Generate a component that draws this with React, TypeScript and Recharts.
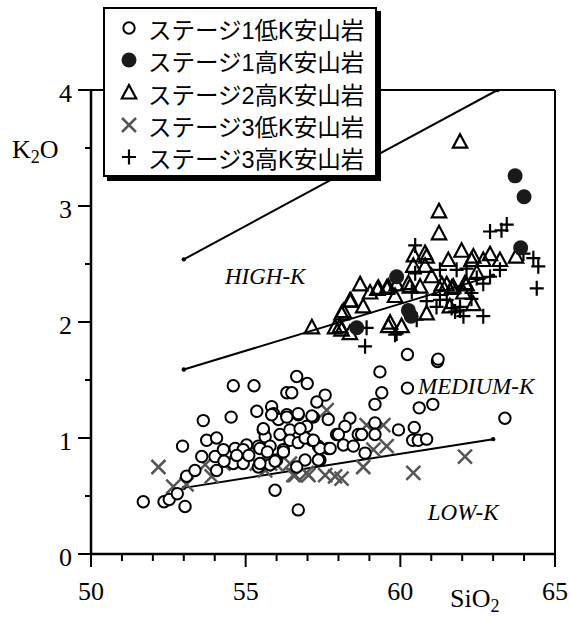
import React from 'react';
import { ScatterChart, Scatter, XAxis, YAxis, ReferenceLine, ReferenceDot, Legend } from 'recharts';

// SiO2 / K2O diagram
const stage1Low: [number, number][] = [
  [51.69, 0.45], [52.36, 0.45], [52.53, 0.47], [52.79, 0.52], [53.04, 0.41], [53.09, 0.67], [53.36, 0.72],
  [53.58, 0.84], [52.96, 0.93], [53.63, 1.15], [53.74, 0.98], [54.06, 1.0], [54.01, 0.84], [54.06, 0.72],
  [54.28, 0.9], [54.53, 1.18], [54.6, 1.45], [55.27, 1.45], [55.36, 1.23], [54.66, 0.91], [54.6, 0.78],
  [54.92, 0.78], [55.03, 0.94], [55.41, 0.93], [55.57, 1.07], [55.63, 1.01], [55.84, 1.27], [55.9, 1.21],
  [55.95, 0.55], [55.79, 0.93], [56.11, 1.03], [56.06, 1.16], [56.33, 1.2], [56.43, 1.07], [56.33, 1.39],
  [56.49, 1.39], [56.65, 1.53], [56.99, 1.47], [56.7, 1.2], [56.43, 0.98], [56.7, 0.96], [56.92, 0.81],
  [56.7, 0.38], [56.0, 0.81], [56.22, 0.9], [56.97, 1.1], [57.19, 1.18], [57.14, 0.98], [57.35, 0.93],
  [57.4, 0.81], [57.57, 1.37], [57.3, 1.31], [57.67, 1.16], [57.94, 1.03], [57.67, 0.91], [55.41, 0.75],
  [55.79, 0.77], [56.65, 0.75], [54.92, 0.9], [54.71, 0.85], [55.84, 1.2], [56.33, 1.18], [56.7, 1.21],
  [57.14, 1.19], [58.37, 1.17], [58.21, 1.1], [58.0, 1.03], [58.16, 0.94], [58.48, 0.93], [58.64, 1.03],
  [58.75, 1.03], [58.86, 0.87], [59.18, 1.13], [59.18, 1.03], [59.18, 1.29], [59.4, 1.39], [59.34, 1.57],
  [60.23, 1.72], [61.2, 1.66], [61.22, 1.68], [60.23, 1.43], [60.61, 1.26], [61.05, 1.29], [59.94, 1.07],
  [60.45, 1.09], [60.4, 0.98], [60.58, 0.98], [60.85, 0.99], [63.38, 1.17], [56.22, 0.88], [55.95, 0.8],
  [57.35, 0.81], [57.4, 0.91], [57.73, 0.91], [56.92, 1.0], [57.19, 0.98], [56.76, 1.08], [55.46, 0.91],
  [55.57, 1.08], [55.46, 0.78], [54.3, 0.8], [55.1, 0.85], [55.7, 0.88],
];

const stage1High: [number, number][] = [
  [58.59, 1.95], [59.88, 2.39], [60.26, 2.1], [60.35, 2.05], [63.71, 3.26], [64.0, 3.08], [63.89, 2.64],
];

const stage2High: [number, number][] = [
  [61.93, 3.55], [61.25, 2.95], [61.25, 2.76], [61.98, 2.61], [62.36, 2.56], [62.68, 2.53], [62.9, 2.58],
  [63.22, 2.53], [63.74, 2.56], [61.55, 2.53], [60.85, 2.56], [60.44, 2.57], [60.8, 2.48], [60.42, 2.48],
  [61.01, 2.39], [62.09, 2.33], [62.47, 2.42], [61.5, 2.32], [60.64, 2.3], [59.88, 2.32], [59.56, 2.29],
  [59.26, 2.28], [59.02, 2.25], [58.7, 2.32], [58.4, 2.18], [58.16, 2.09], [58.8, 2.13], [58.05, 1.96],
  [58.37, 1.9], [59.67, 1.99], [60.04, 1.96], [59.83, 2.22], [60.31, 2.3], [60.85, 2.07], [61.6, 2.13],
  [62.36, 2.15], [61.28, 2.28], [61.66, 2.29], [62.04, 2.25], [57.14, 1.95], [57.89, 1.95], [58.1, 1.93],
  [58.1, 2.07], [58.37, 2.18], [59.29, 2.29], [59.61, 2.3], [59.61, 1.96], [60.8, 2.59], [60.26, 2.33],
  [62.3, 2.53], [61.71, 2.3], [62.14, 2.32], [61.34, 2.32],
];

const stage3Low: [number, number][] = [
  [52.18, 0.75], [52.66, 0.58], [53.09, 0.6], [53.69, 0.77], [53.9, 0.67], [54.28, 0.78], [55.36, 0.78],
  [55.63, 0.72], [56.43, 0.78], [56.6, 0.68], [56.97, 0.7], [57.57, 0.68], [57.89, 0.67], [57.62, 1.24],
  [56.0, 0.77], [58.91, 1.11], [59.45, 1.11], [59.56, 0.93], [58.8, 0.75], [60.42, 0.7], [62.09, 0.84],
  [58.1, 0.65], [57.03, 0.68], [56.54, 0.68], [55.79, 0.78], [59.13, 0.9],
];

const stage3High: [number, number][] = [
  [62.9, 2.78], [63.27, 2.79], [63.44, 2.84], [60.48, 2.66], [63.98, 2.59], [64.3, 2.55], [64.46, 2.48],
  [64.41, 2.29], [63.22, 2.45], [62.9, 2.39], [62.68, 2.33], [62.3, 2.25], [61.93, 2.13], [61.77, 2.09],
  [62.68, 2.05], [62.04, 2.05], [61.17, 2.13], [60.53, 2.02], [59.88, 1.9], [58.86, 1.79], [58.91, 1.95],
  [61.5, 2.19], [61.28, 2.45], [62.14, 2.46], [62.47, 2.38], [59.83, 1.89], [60.85, 2.18], [61.28, 2.19],
  [61.66, 2.12], [61.93, 2.1], [62.3, 2.2], [61.82, 2.45], [60.48, 2.42], [60.37, 2.26],
];

// series boundaries (end points)
const highKLine: [number, number][] = [[53, 2.54], [63.14, 4]];
const mediumKLine: [number, number][] = [[53, 1.59], [63, 2.4]];
const lowKLine: [number, number][] = [[53, 0.57], [63, 0.99]];

const xTicks = [50, 51, 52, 53, 54, 55, 56, 57, 58, 59, 60, 61, 62, 63, 64, 65];
const yTicks = [0, 0.5, 1, 1.5, 2, 2.5, 3, 3.5, 4];

const fieldLabels = [
  { name: 'HIGH-K', x: 55.63, y: 2.4 },
  { name: 'MEDIUM-K', x: 62.45, y: 1.45 },
  { name: 'LOW-K', x: 62.03, y: 0.36 },
];

const legendNames = ['ステージ1低K安山岩', 'ステージ1高K安山岩', 'ステージ2高K安山岩', 'ステージ3低K安山岩', 'ステージ3高K安山岩'];

const toPts = (arr: [number, number][]) => arr.map(([x, y]) => ({ x, y }));

const SERIF = "'Liberation Serif', 'Times New Roman', serif";
const SANS = "'Liberation Sans', Arial, 'Noto Sans CJK JP', sans-serif";
const TICK_SIZE = 13;
const TICK_MARGIN = 6;
const serifStyle = { fontFamily: SERIF };

const OpenCircle = ({ cx, cy }: any) => <circle cx={cx} cy={cy} r={5.7} fill="#fff" stroke="#000" strokeWidth={2} />;
const FilledCircle = ({ cx, cy }: any) => <circle cx={cx} cy={cy} r={7.5} fill="#1a1a1a" />;
const Triangle = ({ cx, cy }: any) => (
  <path d={`M${cx},${cy - 8}L${cx + 7.2},${cy + 5.5}L${cx - 7.2},${cy + 5.5}Z`} fill="none" stroke="#000" strokeWidth={2.2} />
);
const Cross = ({ cx, cy }: any) => (
  <path d={`M${cx - 7},${cy - 7}L${cx + 7},${cy + 7}M${cx + 7},${cy - 7}L${cx - 7},${cy + 7}`} stroke="#555" strokeWidth={2.5} />
);
const Plus = ({ cx, cy }: any) => (
  <path d={`M${cx - 7},${cy}L${cx + 7},${cy}M${cx},${cy - 7.5}L${cx},${cy + 7.5}`} stroke="#000" strokeWidth={2.2} />
);
const EndDot = ({ cx, cy }: any) => <circle cx={cx} cy={cy} r={2.2} fill="#000" />;

const markers = [OpenCircle, FilledCircle, Triangle, Cross, Plus];

const YTick = (props: any) => {
  const { x, y, payload } = props;
  const major = Number.isInteger(payload.value);
  const axisX = x + TICK_MARGIN + TICK_SIZE;
  return (
    <g>
      <line x1={axisX - (major ? TICK_SIZE : 6)} x2={axisX} y1={y} y2={y} stroke="#000" strokeWidth={2} />
      {major && (
        <text x={axisX - TICK_SIZE - 6} y={y} dy={12} textAnchor="end" fontFamily={SERIF} style={serifStyle} fontSize={26} fill="#000">
          {payload.value}
        </text>
      )}
    </g>
  );
};

const XTick = (props: any) => {
  const { x, y, payload } = props;
  const major = payload.value % 5 === 0;
  const axisY = y - TICK_MARGIN - TICK_SIZE;
  return (
    <g>
      <line x1={x} x2={x} y1={axisY} y2={axisY + (major ? TICK_SIZE : 7)} stroke="#000" strokeWidth={2} />
      {major && (
        <text x={x} y={axisY + 46} textAnchor="middle" fontFamily={SERIF} style={serifStyle} fontSize={26} fill="#000">
          {payload.value}
        </text>
      )}
    </g>
  );
};

const fieldText = (name: string) => (p: any) => {
  const vb = p.viewBox || {};
  const cx = (vb.x ?? 0) + (vb.width ?? 0) / 2;
  const cy = (vb.y ?? 0) + (vb.height ?? 0) / 2;
  return (
    <text x={cx} y={cy} dy={8} textAnchor="middle" fontFamily={SERIF} style={serifStyle} fontStyle="italic" fontSize={23} fill="#000">
      {name}
    </text>
  );
};

const LegendBox = () => (
  <div
    style={{
      position: 'relative',
      width: 274,
      height: 170,
      boxSizing: 'border-box',
      border: '2px solid #000',
      background: '#fff',
      boxShadow: '4px 4px 0 #000',
    }}
  >
    {legendNames.map((name, i) => {
      const M = markers[i];
      return (
        <React.Fragment key={name}>
          <svg width={20} height={20} style={{ position: 'absolute', left: 14, top: 9 + 32.3 * i }}>
            <M cx={10} cy={10} />
          </svg>
          <span
            style={{
              position: 'absolute',
              left: 43,
              top: 11 + 32.3 * i,
              fontFamily: SANS,
              fontSize: 23.5,
              lineHeight: '23px',
              whiteSpace: 'nowrap',
              color: '#000',
            }}
          >
            {name}
          </span>
        </React.Fragment>
      );
    })}
  </div>
);

export default function App() {
  return (
    <div style={{ position: 'absolute', left: 0, top: 0, width: 570, height: 618, background: '#fff' }}>
      <ScatterChart width={570} height={618} margin={{ top: 90, right: 15, bottom: 34, left: 31 }}>
        <XAxis
          type="number"
          dataKey="x"
          domain={[50, 65]}
          ticks={xTicks}
          interval={0}
          height={30}
          tickSize={TICK_SIZE}
          tickMargin={TICK_MARGIN}
          tickLine={{ stroke: 'none' }}
          axisLine={{ stroke: '#000', strokeWidth: 2.5 }}
          tick={<XTick />}
          allowDataOverflow
          label={{
            content: () => (
              <text x={450} y={607} fontFamily={SERIF} style={serifStyle} fontSize={26} fill="#000">
                SiO<tspan fontSize={18} dy={5}>2</tspan>
              </text>
            ),
          }}
        />
        <YAxis
          type="number"
          dataKey="y"
          domain={[0, 4]}
          ticks={yTicks}
          interval={0}
          width={60}
          tickSize={TICK_SIZE}
          tickMargin={TICK_MARGIN}
          tickLine={{ stroke: 'none' }}
          axisLine={{ stroke: '#000', strokeWidth: 2.5 }}
          tick={<YTick />}
          allowDataOverflow
          label={{
            content: () => (
              <text x={12} y={158} fontFamily={SERIF} style={serifStyle} fontSize={26} fill="#000">
                K<tspan fontSize={18} dy={5}>2</tspan>
                <tspan fontSize={26} dy={-5}>O</tspan>
              </text>
            ),
          }}
        />
        <ReferenceLine y={4} stroke="#000" strokeWidth={2} />
        <ReferenceLine x={65} stroke="#000" strokeWidth={2} />
        {fieldLabels.map((f) => (
          <ReferenceDot key={f.name} x={f.x} y={f.y} r={0} fill="none" stroke="none" label={{ content: fieldText(f.name) }} />
        ))}
        <Scatter data={toPts(highKLine)} line={{ stroke: '#000', strokeWidth: 2 }} shape={<EndDot />} isAnimationActive={false} />
        <Scatter data={toPts(mediumKLine)} line={{ stroke: '#000', strokeWidth: 2 }} shape={<EndDot />} isAnimationActive={false} />
        <Scatter data={toPts(lowKLine)} line={{ stroke: '#000', strokeWidth: 2 }} shape={<EndDot />} isAnimationActive={false} />
        <Scatter name={legendNames[3]} data={toPts(stage3Low)} shape={<Cross />} isAnimationActive={false} />
        <Scatter name={legendNames[0]} data={toPts(stage1Low)} shape={<OpenCircle />} isAnimationActive={false} />
        <Scatter name={legendNames[4]} data={toPts(stage3High)} shape={<Plus />} isAnimationActive={false} />
        <Scatter name={legendNames[2]} data={toPts(stage2High)} shape={<Triangle />} isAnimationActive={false} />
        <Scatter name={legendNames[1]} data={toPts(stage1High)} shape={<FilledCircle />} isAnimationActive={false} />
        <Legend
          layout="vertical"
          align="center"
          verticalAlign="middle"
          content={<LegendBox />}
          wrapperStyle={{ left: 103, top: 7, width: 278, height: 174, right: 'auto', bottom: 'auto', margin: 0 }}
        />
      </ScatterChart>
    </div>
  );
}
